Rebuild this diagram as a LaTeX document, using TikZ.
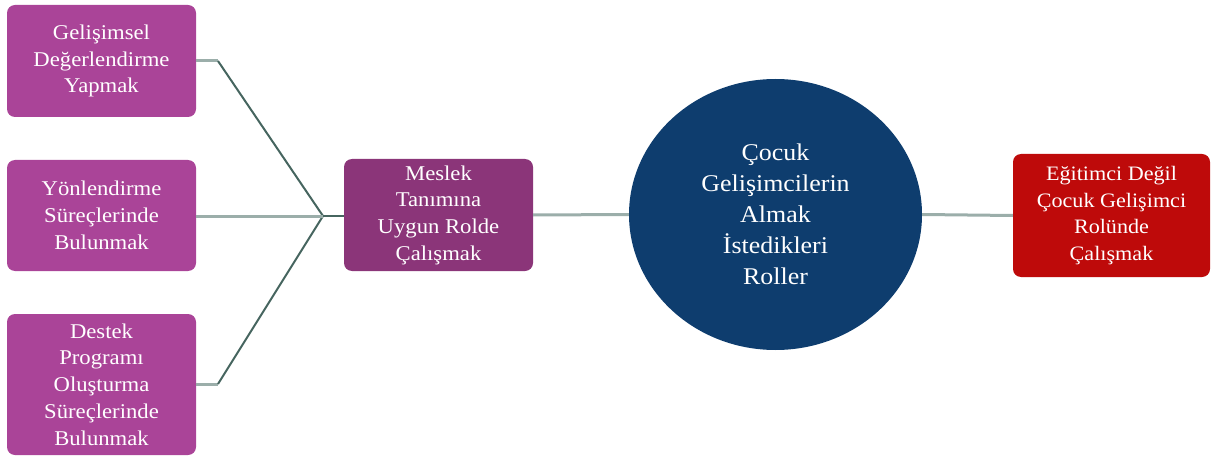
\documentclass[tikz,border=0pt]{standalone}
\usetikzlibrary{shapes.geometric}
\usepackage{fontspec}
\setmainfont{Liberation Serif}[FakeStretch=1.08]
\definecolor{boxpurple}{RGB}{170,68,152}
\definecolor{midpurple}{RGB}{139,53,121}
\definecolor{circblue}{RGB}{14,61,110}
\definecolor{boxred}{RGB}{190,10,10}
\definecolor{linelight}{RGB}{155,174,170}
\definecolor{linedark}{RGB}{70,101,95}
\begin{document}
\begin{tikzpicture}[x=1pt,y=-1pt,
  box/.style={rectangle, rounded corners=8pt, text=white, align=center,
    inner sep=0pt, font=\fontsize{21}{26.7}\selectfont},
  leftbox/.style={box, fill=boxpurple, minimum width=189pt},
  lightline/.style={draw=linelight, line width=3pt},
  darkline/.style={draw=linedark, line width=2pt}
]
\useasboundingbox (0,0) rectangle (1212,457);
\node[leftbox, minimum height=112pt] (b1) at (101.5,61) {Gelişimsel\\Değerlendirme\\Yapmak};
\node[leftbox, minimum height=111pt] (b2) at (101.5,215.5) {Yönlendirme\\Süreçlerinde\\Bulunmak};
\node[leftbox, minimum height=141pt] (b3) at (101.5,384.5) {Destek\\Programı\\Oluşturma\\Süreçlerinde\\Bulunmak};
\node[box, fill=midpurple, minimum width=189pt, minimum height=112pt] (m) at (438.5,215) {Meslek\\Tanımına\\Uygun Rolde\\Çalışmak};
\node[ellipse, fill=circblue, text=white, align=center, inner sep=0pt,
  minimum width=293pt, minimum height=271pt,
  font=\fontsize{24}{31}\selectfont] (c) at (775.5,214.5) {Çocuk\\Gelişimcilerin\\Almak\\İstedikleri\\Roller};
\node[box, fill=boxred, minimum width=197pt, minimum height=123pt,
  font=\fontsize{20.5}{26.7}\selectfont] (r) at (1111.5,215.5) {Eğitimci Değil\\Çocuk Gelişimci\\Rolünde\\Çalışmak};
\coordinate (j) at (323,216);
\coordinate (k1) at (218,61);
\coordinate (k3) at (218,384);
\draw[lightline] (b1.east |- k1) -- (k1);
\draw[darkline] (k1) -- (j);
\draw[lightline] (b3.east |- k3) -- (k3);
\draw[darkline] (k3) -- (j);
\draw[lightline] (b2.east |- j) -- (j);
\draw[darkline] (j) -- (m.west |- j);
\draw[lightline] (m.east) -- (c.west);
\draw[lightline] (c.east) -- (r.west);
\end{tikzpicture}
\end{document}
